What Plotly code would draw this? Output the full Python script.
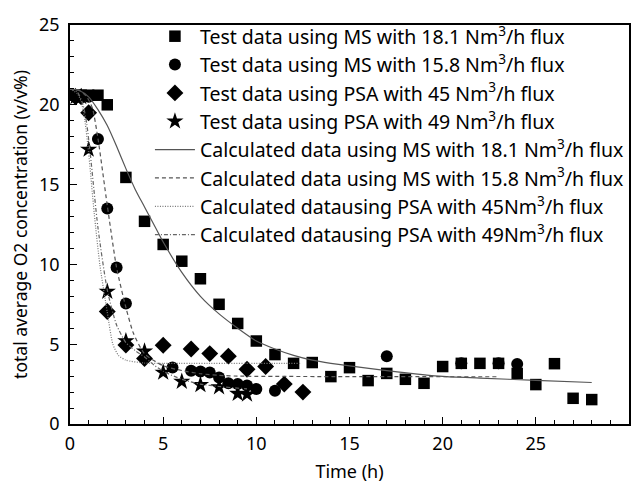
import plotly.graph_objects as go

# ---- test data ----
ms181_x = [0.3, 0.6, 1.0, 1.5, 2, 3, 4, 5, 6, 7, 8, 9, 10, 11, 12, 13, 14, 15, 16, 17, 18, 19, 20, 21, 22, 23, 24, 25, 26, 27, 28]
ms181_y = [20.6, 20.6, 20.6, 20.6, 20.0, 15.45, 12.7, 11.25, 10.2, 9.1, 7.5, 6.3, 5.2, 4.35, 3.8, 3.85, 2.97, 3.53, 2.72, 3.17, 2.8, 2.55, 3.6, 3.8, 3.8, 3.8, 3.17, 2.47, 3.78, 1.61, 1.53]

ms158_x = [0.3, 0.6, 1.0, 1.5, 2, 2.5, 3, 5.5, 6.5, 7, 7.5, 8, 8.5, 9, 9.5, 10, 11, 17, 21, 23, 24]
ms158_y = [20.5, 20.5, 20.5, 17.85, 13.5, 9.8, 7.55, 3.54, 3.33, 3.29, 3.23, 2.92, 2.55, 2.51, 2.41, 2.2, 2.08, 4.25, 3.8, 3.8, 3.76]

psa45_x = [0.3, 0.6, 1.0, 2, 3, 4, 5, 6.5, 7.5, 8.5, 9.5, 10.5, 11.5, 12.5]
psa45_y = [20.5, 20.5, 19.5, 7.05, 4.95, 4.1, 4.93, 4.7, 4.41, 4.25, 3.43, 3.6, 2.5, 2.0]

psa49_x = [0.3, 0.6, 1.0, 2, 3, 4, 5, 6, 7, 8, 9, 9.5]
psa49_y = [20.5, 20.5, 17.2, 8.3, 5.2, 4.55, 3.23, 2.66, 2.45, 2.31, 1.9, 1.86]

# ---- calculated curves ----
calc181_x = [0, 0.5, 1, 1.5, 2, 2.5, 3, 3.5, 4, 4.5, 5, 6, 7, 8, 9, 10, 11, 12, 13, 14, 15, 17, 20, 22, 25, 28]
calc181_y = [21.0, 20.9, 20.5, 19.7, 18.7, 17.4, 16.0, 14.7, 13.6, 12.5, 11.4, 9.5, 8.0, 6.9, 6.0, 5.2, 4.7, 4.3, 4.0, 3.8, 3.64, 3.35, 2.98, 2.88, 2.73, 2.6]

calc158_x = [0, 0.5, 0.9, 1.2, 1.5, 2, 2.5, 3, 3.4, 4, 5, 6, 7, 8, 9, 23]
calc158_y = [21.0, 20.9, 20.5, 19.8, 17.9, 13.7, 9.8, 7.3, 5.7, 4.4, 3.65, 3.35, 3.15, 3.05, 3.0, 2.96]

calc45_x = [0, 0.4, 0.6, 0.8, 1.0, 1.3, 1.6, 2.0, 2.3, 2.6, 3.0, 4.0, 5.0, 12.35]
calc45_y = [21.0, 20.7, 20.2, 19.0, 17.0, 13.2, 10.0, 7.0, 5.0, 4.3, 4.0, 3.82, 3.8, 3.8]

calc49_x = [0, 0.4, 0.7, 0.9, 1.1, 1.5, 2.0, 2.5, 3.0, 3.5, 4.0, 4.5, 5.0, 6.0, 7.0, 8.0, 9.5]
calc49_y = [21.0, 20.8, 20.0, 18.8, 16.8, 12.3, 8.4, 6.2, 5.1, 4.6, 4.2, 3.7, 3.3, 2.8, 2.5, 2.35, 2.2]

names = [
    "Test data using MS with 18.1 Nm<sup>3</sup>/h flux",
    "Test data using MS with 15.8 Nm<sup>3</sup>/h flux",
    "Test data using PSA with 45 Nm<sup>3</sup>/h flux",
    "Test data using PSA with 49 Nm<sup>3</sup>/h flux",
    "Calculated data using MS with 18.1 Nm<sup>3</sup>/h flux",
    "Calculated data using MS with 15.8 Nm<sup>3</sup>/h flux",
    "Calculated datausing PSA with 45Nm<sup>3</sup>/h flux",
    "Calculated datausing PSA with 49Nm<sup>3</sup>/h flux",
]

FONT = "Noto Sans"
fig = go.Figure()

fig.add_trace(go.Scatter(x=ms181_x, y=ms181_y, mode="markers", name=names[0],
                         marker=dict(symbol="square", size=11.5, color="black")))
fig.add_trace(go.Scatter(x=ms158_x, y=ms158_y, mode="markers", name=names[1],
                         marker=dict(symbol="circle", size=12, color="black")))
fig.add_trace(go.Scatter(x=psa45_x, y=psa45_y, mode="markers", name=names[2],
                         marker=dict(symbol="diamond", size=13, color="black")))
fig.add_trace(go.Scatter(x=psa49_x, y=psa49_y, mode="markers", name=names[3],
                         marker=dict(symbol="star", size=13, color="black")))

fig.add_trace(go.Scatter(x=calc181_x, y=calc181_y, mode="lines", name=names[4],
                         line=dict(color="#555555", width=1.2, shape="spline", smoothing=0.6)))
fig.add_trace(go.Scatter(x=calc158_x, y=calc158_y, mode="lines", name=names[5],
                         line=dict(color="#555555", width=1.2, dash="4px,3px", shape="spline", smoothing=0.6)))
fig.add_trace(go.Scatter(x=calc45_x, y=calc45_y, mode="lines", name=names[6],
                         line=dict(color="#777777", width=1.2, dash="1px,1.5px", shape="spline", smoothing=0.6)))
fig.add_trace(go.Scatter(x=calc49_x, y=calc49_y, mode="lines", name=names[7],
                         line=dict(color="#666666", width=1.2, dash="4px,2px,1px,2px", shape="spline", smoothing=0.6)))

axis_common = dict(
    showline=True, linecolor="black", linewidth=1.5, mirror=True,
    ticks="inside", ticklen=7, tickcolor="black", tickwidth=1.2,
    showgrid=False, zeroline=False, automargin=False,
    tickfont=dict(family=FONT, size=18, color="black"),
    minor=dict(ticks="inside", ticklen=4, tickcolor="black", tickwidth=1),
)

fig.update_xaxes(range=[0, 30], dtick=5, ticklabelstandoff=3,
                 title=dict(text="Time (h)", font=dict(family=FONT, size=18, color="black"), standoff=11),
                 **axis_common)
fig.update_yaxes(range=[0, 25], dtick=5, ticklabelstandoff=5,
                 title=dict(text="total average O2 concentration (v/v%)", font=dict(family=FONT, size=17.5, color="black"), standoff=10),
                 **axis_common)

# page body adds an 8px offset; sizes compensate for it
fig.update_layout(
    width=631, height=478,
    margin=dict(l=62, r=10, t=9, b=62),
    plot_bgcolor="white", paper_bgcolor="white",
    legend=dict(x=0.143, y=1.02, xanchor="left", yanchor="top",
                bgcolor="rgba(0,0,0,0)", borderwidth=0,
                font=dict(family=FONT, size=19.5, color="black"),
                itemwidth=40, tracegroupgap=0),
    showlegend=True,
)

fig.write_html("out.html")
